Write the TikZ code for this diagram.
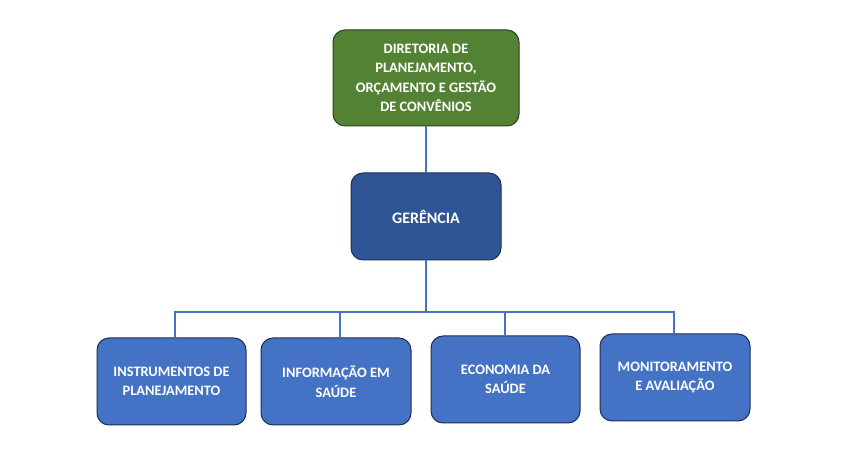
\documentclass[tikz,border=0pt]{standalone}
\usepackage{fontspec}
\setmainfont{Carlito}
\definecolor{dirgreen}{HTML}{548235}
\definecolor{gerblue}{HTML}{2F5597}
\definecolor{boxblue}{HTML}{4472C4}
\definecolor{linkblue}{HTML}{4472C4}
\definecolor{edgegreen}{HTML}{2A3F1E}
\definecolor{edgeblue}{HTML}{1F2F4F}
\begin{document}
\begin{tikzpicture}[x=1pt,y=1pt,
  orgbox/.style={rounded corners=12pt, line width=1pt, text=white,
    font=\fontsize{14.4}{19.5}\selectfont\bfseries, align=center, inner sep=2pt},
  dirbox/.style={orgbox, fill=dirgreen, draw=edgegreen},
  gerbox/.style={orgbox, fill=gerblue, draw=edgeblue, font=\fontsize{16}{19.5}\selectfont\bfseries},
  unitbox/.style={orgbox, fill=boxblue, draw=edgeblue},
  link/.style={draw=linkblue, line width=2pt}]
\useasboundingbox (0,0) rectangle (859,457);
\fill[white] (0,0) rectangle (859,457);
\node[dirbox, minimum width=186pt, minimum height=96pt] (dir) at (426,379)
  {DIRETORIA DE\\PLANEJAMENTO,\\ORÇAMENTO E GESTÃO\\DE CONVÊNIOS};
\node[gerbox, minimum width=150pt, minimum height=87pt] (ger) at (426,240.5) {GERÊNCIA};
\node[unitbox, minimum width=149pt, minimum height=87pt] (u1) at (171.5,75.5)
  {INSTRUMENTOS DE\\PLANEJAMENTO};
\node[unitbox, minimum width=150pt, minimum height=87pt] (u2) at (336,75.5)
  {INFORMAÇÃO EM\\SAÚDE};
\node[unitbox, minimum width=149pt, minimum height=87pt] (u3) at (505.5,77.5)
  {ECONOMIA DA\\SAÚDE};
\node[unitbox, minimum width=150pt, minimum height=87pt] (u4) at (675,79.5)
  {MONITORAMENTO\\E AVALIAÇÃO};
\coordinate (bus) at (426,145);
\coordinate (d1) at ([xshift=3.5pt]u1.north);
\coordinate (d2) at ([xshift=4pt]u2.north);
\coordinate (d3) at ([xshift=-0.5pt]u3.north);
\coordinate (d4) at ([xshift=-1pt]u4.north);
\draw[link] (dir.south) -- (ger.north);
\draw[link] (ger.south) -- (bus);
\draw[link] (d1) -- (d1 |- bus) -- (d4 |- bus) -- (d4);
\draw[link] (d2) -- (d2 |- bus);
\draw[link] (d3) -- (d3 |- bus);
\end{tikzpicture}
\end{document}
